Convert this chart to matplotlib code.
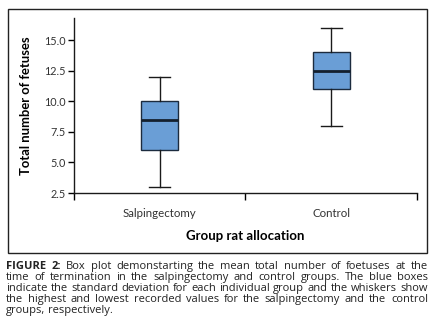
import matplotlib
matplotlib.use("Agg")
import matplotlib.pyplot as plt
from matplotlib.patches import Rectangle

# ---------------- data ----------------
groups = ["Salpingectomy", "Control"]
whisker_low = [3.0, 8.0]
box_low = [6.0, 11.0]
medians = [8.5, 12.5]
box_high = [10.0, 14.0]
whisker_high = [12.0, 16.0]
y_ticks = [2.5, 5.0, 7.5, 10.0, 12.5, 15.0]

caption_lines = [
    "FIGURE 2: Box plot demonstarting the mean total number of foetuses at the",
    "time of termination in the salpingectomy and control groups. The blue boxes",
    "indicate the standard deviation for each individual group and the whiskers show",
    "the highest and lowest recorded values for the salpingectomy and the control",
    "groups, respectively.",
]

plt.rcParams['font.family'] = ['Lato', 'DejaVu Sans']

fig = plt.figure(figsize=(4.35, 3.33), dpi=100)

# outer frame around the chart
fig.patches.append(Rectangle((8 / 435, 1 - 253 / 333), 419 / 435, 244 / 333,
                             transform=fig.transFigure, fill=False,
                             edgecolor="#222222", linewidth=1.0))

ax = fig.add_axes([74 / 435, 1 - 193 / 333, 343 / 435, 175 / 333])

stats = []
for i, g in enumerate(groups):
    stats.append({"label": g, "whislo": whisker_low[i], "q1": box_low[i],
                  "med": medians[i], "q3": box_high[i], "whishi": whisker_high[i],
                  "fliers": []})

ax.bxp(stats, positions=[1, 2], widths=0.215, patch_artist=True,
       showfliers=False,
       boxprops=dict(facecolor="#6a9ed6", edgecolor="#1c2b3e", linewidth=1.0),
       medianprops=dict(color="#14202e", linewidth=2.0),
       whiskerprops=dict(color="#1a1a1a", linewidth=1.0),
       capprops=dict(color="#1a1a1a", linewidth=1.0),
       capwidths=0.12)

ax.set_xlim(0.5, 2.5)
ax.set_ylim(2.5, 16.8)
ax.set_yticks(y_ticks)
ax.set_yticklabels([f"{v:.1f}" for v in y_ticks])
ax.set_xticks([1, 2])
ax.set_xticklabels(groups)
ax.set_xticks([0.5, 1.5, 2.5], minor=True)
ax.tick_params(axis="x", which="major", length=0, pad=11, labelsize=8.3, labelcolor="#333333")
ax.tick_params(axis="x", which="minor", length=5, width=1.0, direction="out")
ax.tick_params(axis="y", length=4, width=1.0, direction="out", labelsize=7.8,
               pad=2, labelcolor="#333333")

for s in ["top", "right"]:
    ax.spines[s].set_visible(False)
for s in ["left", "bottom"]:
    ax.spines[s].set_linewidth(1.0)
    ax.spines[s].set_color("#1a1a1a")

ax.set_ylabel("Total number of fetuses", fontsize=9.4, fontweight="bold", labelpad=9)
ax.set_xlabel("Group rat allocation", fontsize=9.5, fontweight="bold", labelpad=8)

# ---------------- caption, justified ----------------
renderer = fig.canvas.get_renderer()
x_left, x_right = 6 / 435, 428 / 435
baselines = [269, 280, 291, 302, 313]
cap_font = ["Open Sans", "DejaVu Sans"]


def text_width(s, size, **kw):
    t = fig.text(0, 0, s, fontsize=size, family=cap_font, **kw)
    w = t.get_window_extent(renderer).width
    t.remove()
    return w / fig.bbox.width


# pick the caption size so the longest line just fits the frame width
longest = max(caption_lines, key=lambda s: text_width(s, 10))
cap_size = 10 * 0.99 * (x_right - x_left) / text_width(longest, 10)
space = text_width("a a", cap_size) - text_width("aa", cap_size)

for n, line in enumerate(caption_lines):
    words = line.split(" ")
    y = 1 - baselines[n] / 333
    texts = []
    for k, w in enumerate(words):
        bold = (n == 0 and k < 2)
        t = fig.text(0, y, w, fontsize=cap_size, family=cap_font, color="#222222",
                     va="baseline", fontweight="bold" if bold else "normal")
        texts.append(t)
    widths = [t.get_window_extent(renderer).width / fig.bbox.width for t in texts]
    if n < len(caption_lines) - 1:
        gap = (x_right - x_left - sum(widths)) / (len(words) - 1)
    else:
        gap = space
    x = x_left
    for t, w in zip(texts, widths):
        t.set_x(x)
        x += w + gap

fig.savefig("out.png", dpi=100)
plt.close(fig)
